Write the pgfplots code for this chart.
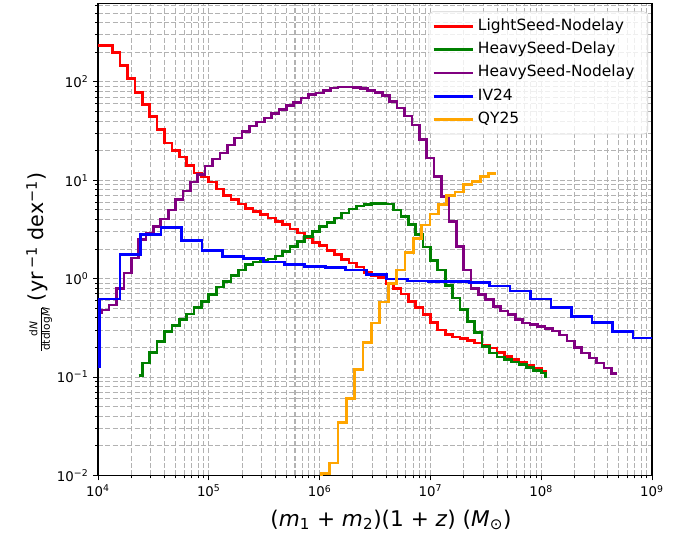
\documentclass[border=0pt]{standalone}
\usepackage{fontspec}
\setmainfont{DejaVu Sans}
\usepackage{pgfplots}
\pgfplotsset{compat=1.18}

\definecolor{cRed}{RGB}{255,0,0}
\definecolor{cGreen}{RGB}{0,128,0}
\definecolor{cPurple}{RGB}{128,0,128}
\definecolor{cBlue}{RGB}{0,0,255}
\definecolor{cOrange}{RGB}{255,165,0}

\begin{document}
\begin{tikzpicture}
\begin{axis}[
    name=ax,
    scale only axis,
    width=415.5pt, height=354pt,
    xmode=log, ymode=log,
    xmin=1e4, xmax=1e9, ymin=1e-2, ymax=627,
    xtick={1e4,1e5,1e6,1e7,1e8,1e9},
    xticklabels={10\textsuperscript{4},10\textsuperscript{5},10\textsuperscript{6},10\textsuperscript{7},10\textsuperscript{8},10\textsuperscript{9}},
    ytick={1e-2,1e-1,1,10,100},
    yticklabels={10\textsuperscript{−2},10\textsuperscript{−1},10\textsuperscript{0},10\textsuperscript{1},10\textsuperscript{2}},
    minor xtick={2e4,3e4,4e4,5e4,6e4,7e4,8e4,9e4,2e5,3e5,4e5,5e5,6e5,7e5,8e5,9e5,
                 2e6,3e6,4e6,5e6,6e6,7e6,8e6,9e6,2e7,3e7,4e7,5e7,6e7,7e7,8e7,9e7,
                 2e8,3e8,4e8,5e8,6e8,7e8,8e8,9e8},
    minor ytick={0.02,0.03,0.04,0.05,0.06,0.07,0.08,0.09,0.2,0.3,0.4,0.5,0.6,0.7,0.8,0.9,
                 2,3,4,5,6,7,8,9,20,30,40,50,60,70,80,90,200,300,400,500,600},
    grid=both,
    major grid style={gray!60, line width=0.8pt, dash pattern=on 3.75pt off 1.75pt},
    minor grid style={gray!60, line width=0.8pt, dash pattern=on 3.75pt off 1.75pt},
    tick align=outside, tick pos=left,
    major tick length=3.7pt, minor tick length=2.2pt,
    every tick/.style={black, line width=0.7pt},
    axis line style={line width=1.3pt, black},
    ticklabel style={font=\fontsize{10}{12}\selectfont},
    xlabel={(\textit{m}\textsubscript{1} + \textit{m}\textsubscript{2})(1 + \textit{z}) (\textit{M}\textsubscript{⊙})},
    xlabel style={font=\fontsize{16.2}{19}\selectfont, at={(axis description cs:0.5,0)}, anchor=base, yshift=-38pt, xshift=12pt},
    ylabel={{\fontsize{8}{9}\selectfont\begin{tabular}{@{}c@{}}d\textit{N}\\\hline dtdlog\textit{M}\end{tabular}} (yr\,\textsuperscript{−1} dex\textsuperscript{−1})},
    ylabel style={font=\fontsize{15.5}{18}\selectfont, at={(axis description cs:-0.1047,0.453)}, anchor=center, rotate=0},
    every axis plot/.append style={line width=2pt, no markers, const plot},
    legend cell align=left,
    legend image code/.code={\draw[#1] (0pt,0pt) -- (25.5pt,0pt); \path (-0.75pt,0pt) -- (28.5pt,0pt);},
    legend style={at={(axis description cs:0.9928,0.983)}, anchor=north east,
        font=\fontsize{11.6}{13}\selectfont,
        draw=gray!35, rounded corners=3pt, fill=white, fill opacity=0.8, text opacity=1,
        row sep=0.7pt, inner sep=2.5pt,
        nodes={text height=8.3pt, text depth=2.5pt, inner sep=3pt}},
]

% LightSeed-Nodelay
\addplot[cRed] coordinates {
(1e4,235) (1.1659e4,235) (1.3594e4,199) (1.5849e4,146) (1.8478e4,108) (2.1544e4,78)
(2.5119e4,59) (2.9286e4,44.6) (3.4145e4,32.6) (3.9811e4,23.9) (4.6416e4,20.1) (5.4117e4,17.3)
(6.3096e4,14.1) (7.3564e4,11.9) (8.5770e4,10.8) (1e5,9.6) (1.1659e5,8.15) (1.3594e5,7.05)
(1.5849e5,6.35) (1.8478e5,5.75) (2.1544e5,5.2) (2.5119e5,4.83) (2.9286e5,4.47) (3.4145e5,4.14)
(3.9811e5,3.83) (4.6416e5,3.54) (5.4117e5,3.2) (6.3096e5,2.91) (7.3564e5,2.59) (8.5770e5,2.34)
(1e6,2.16) (1.1659e6,1.93) (1.3594e6,1.75) (1.5849e6,1.56) (1.8478e6,1.44) (2.1544e6,1.31)
(2.5119e6,1.16) (2.9286e6,1.07) (3.4145e6,1.02) (3.9811e6,0.90) (4.6416e6,0.80) (5.4117e6,0.70)
(6.3096e6,0.59) (7.3564e6,0.51) (8.5770e6,0.43) (1e7,0.36) (1.1659e7,0.30) (1.3594e7,0.27)
(1.5849e7,0.255) (1.8478e7,0.245) (2.1544e7,0.236) (2.5119e7,0.222) (2.9286e7,0.21) (3.4145e7,0.197)
(3.9811e7,0.178) (4.6416e7,0.162) (5.4117e7,0.15) (6.3096e7,0.141) (7.3564e7,0.132) (8.5770e7,0.124)
(1e8,0.115) (1.12e8,0.115)
};
\addlegendentry{LightSeed-Nodelay}

% HeavySeed-Delay
\addplot[cGreen] coordinates {
(2.328e4,0.103) (2.5119e4,0.139) (2.9286e4,0.178) (3.4145e4,0.231) (3.9811e4,0.29) (4.6416e4,0.333)
(5.4117e4,0.383) (6.3096e4,0.438) (7.3564e4,0.51) (8.5770e4,0.588) (1e5,0.688) (1.1659e5,0.82)
(1.3594e5,0.94) (1.5849e5,1.07) (1.8478e5,1.23) (2.1544e5,1.39) (2.5119e5,1.48) (2.9286e5,1.53)
(3.4145e5,1.58) (3.9811e5,1.7) (4.6416e5,1.89) (5.4117e5,2.13) (6.3096e5,2.39) (7.3564e5,2.69)
(8.5770e5,3.03) (1e6,3.4) (1.1659e6,3.74) (1.3594e6,4.14) (1.5849e6,4.65) (1.8478e6,5.1)
(2.1544e6,5.5) (2.5119e6,5.7) (2.9286e6,5.85) (3.4145e6,5.85) (3.9811e6,5.75) (4.6416e6,5.0)
(5.4117e6,4.3) (6.3096e6,3.54) (7.3564e6,2.8) (8.5770e6,2.1) (1e7,1.53) (1.1659e7,1.23)
(1.3594e7,0.85) (1.5849e7,0.636) (1.8478e7,0.484) (2.1544e7,0.368) (2.5119e7,0.285) (2.9286e7,0.205)
(3.4145e7,0.176) (3.9811e7,0.16) (4.6416e7,0.15) (5.4117e7,0.142) (6.3096e7,0.134) (7.3564e7,0.126)
(8.5770e7,0.117) (1e8,0.11) (1.096e8,0.102) (1.122e8,0.102)
};
\addlegendentry{HeavySeed-Delay}

% HeavySeed-Nodelay
\addplot[cPurple] coordinates {
(1e4,0.45) (1.0798e4,0.48) (1.2589e4,0.54) (1.4678e4,0.80) (1.7113e4,1.14) (1.9953e4,1.62)
(2.3263e4,2.5) (2.7123e4,2.9) (3.1623e4,3.4) (3.6869e4,4.05) (4.2987e4,5.0) (5.0119e4,6.4)
(5.8434e4,7.8) (6.8129e4,9.6) (7.9433e4,11.4) (9.2611e4,14.0) (1.0798e5,16.4) (1.2589e5,18.9)
(1.4678e5,22.8) (1.7113e5,26.9) (1.9953e5,31.5) (2.3263e5,35.6) (2.7123e5,39.2) (3.1623e5,43)
(3.6869e5,48) (4.2987e5,52.3) (5.0119e5,57.4) (5.8434e5,62.1) (6.8129e5,68.4) (7.9433e5,74)
(9.2611e5,77.1) (1.0798e6,82.1) (1.2589e6,87) (1.4678e6,88.7) (1.7113e6,88.7) (1.9953e6,88)
(2.3263e6,86) (2.7123e6,82) (3.1623e6,78.5) (3.6869e6,72.5) (4.2987e6,63.5) (5.0119e6,54.3)
(5.8434e6,45) (6.8129e6,36.6) (7.9433e6,25.8) (9.2611e6,16.8) (1.0798e7,10.9) (1.2589e7,6.85)
(1.4678e7,3.8) (1.7113e7,2.13) (1.9953e7,1.23) (2.3263e7,0.80) (2.7123e7,0.69) (3.1623e7,0.61)
(3.6869e7,0.52) (4.2987e7,0.47) (5.0119e7,0.43) (5.8434e7,0.385) (6.8129e7,0.355) (7.9433e7,0.34)
(9.2611e7,0.325) (1.0798e8,0.312) (1.2589e8,0.295) (1.4678e8,0.268) (1.7113e8,0.233) (1.9953e8,0.2)
(2.3263e8,0.176) (2.7123e8,0.156) (3.1623e8,0.139) (3.6869e8,0.124) (4.2987e8,0.108) (4.8e8,0.108)
};
\addlegendentry{HeavySeed-Nodelay\hspace*{4.5pt}}

% IV24
\addplot[cBlue] coordinates {
(5e3,0.128) (1.033e4,0.62) (1.5823e4,1.75) (2.4236e4,2.8) (3.7124e4,3.33) (5.6866e4,2.43)
(8.7103e4,1.93) (1.3341e5,1.69) (2.0436e5,1.6) (3.1302e5,1.48) (4.7948e5,1.39) (7.3443e5,1.33)
(1.1249e6,1.30) (1.7231e6,1.23) (2.6394e6,1.1) (4.0429e6,0.99) (6.1926e6,0.95) (9.4856e6,0.94)
(1.4529e7,0.93) (2.2255e7,0.92) (3.4088e7,0.84) (5.2214e7,0.75) (7.9981e7,0.62) (1.2251e8,0.51)
(1.8765e8,0.415) (2.8744e8,0.36) (4.4029e8,0.29) (6.7440e8,0.25) (1.1e9,0.25)
};
\addlegendentry{IV24}

% QY25
\addplot[cOrange] coordinates {
(9e5,0.005) (1.0351e6,0.0104) (1.2317e6,0.0134) (1.4656e6,0.0348) (1.7438e6,0.0607) (2.0749e6,0.119)
(2.4689e6,0.225) (2.9377e6,0.354) (3.4956e6,0.58) (4.1591e6,0.9) (4.9489e6,1.23) (5.8884e6,1.85)
(7.0066e6,2.55) (8.3368e6,3.5) (9.9197e6,4.55) (1.1803e7,5.65) (1.4044e7,7.0) (1.6711e7,7.6)
(1.9884e7,9.0) (2.3659e7,9.75) (2.8152e7,10.9) (3.3497e7,11.8) (3.91e7,11.8)
};
\addlegendentry{QY25}

\end{axis}
\pgfresetboundingbox
\path ([xshift=-73.5pt,yshift=-43.9pt]ax.south west) rectangle ([xshift=24pt,yshift=2.6pt]ax.north east);
\end{tikzpicture}
\end{document}
